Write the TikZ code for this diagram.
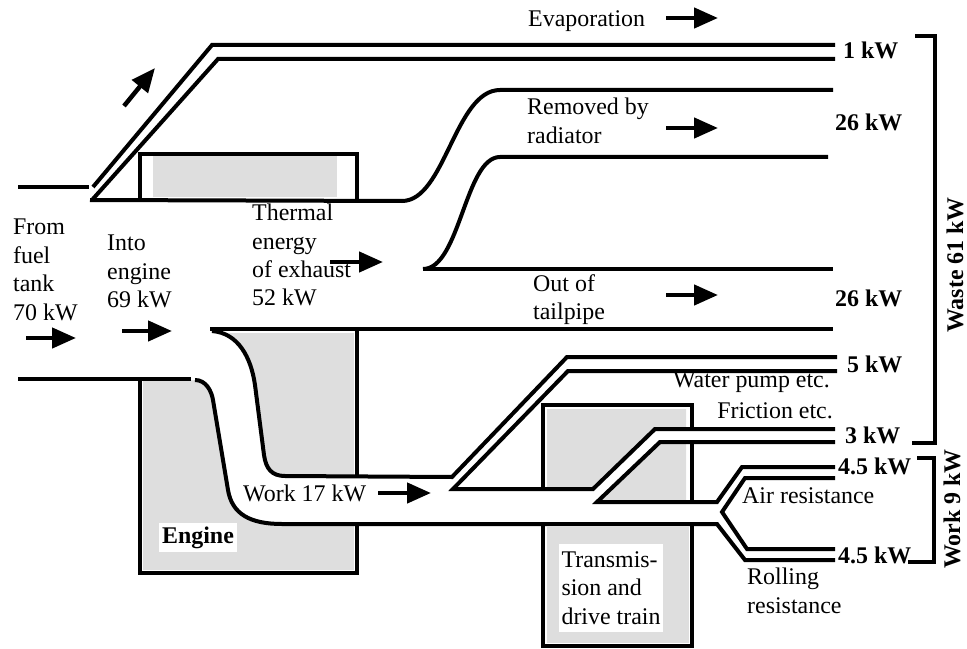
\documentclass[tikz,border=0pt]{standalone}
\usepackage{fontspec}
\setmainfont{Liberation Serif}
\usetikzlibrary{arrows.meta}

\tikzset{
  flow/.style={line width=4bp},
  fatarrow/.style={line width=4.5bp, -{Triangle[length=24bp,width=20bp]}},
  txt/.style={font=\fontsize{24}{28.5}\selectfont, inner sep=0pt},
  kw/.style={font=\fontsize{24}{28.5}\selectfont\bfseries, inner sep=0pt},
  shade/.style={fill=black!13},
}

\begin{document}
\begin{tikzpicture}[x=1bp, y=-1bp]
    \useasboundingbox (0,0) rectangle (967,649);

    % Grey parts: radiator, engine, transmission
    \fill[shade] (153,156) rectangle (337,197);
    \fill[shade] (143,333) rectangle (354,570);
    \fill[shade] (547,409) -- (686,409) -- (686,429) -- (655,429) -- (593,489) -- (547,489) -- cycle;
    \fill[shade] (597,502) -- (660,442) -- (686,442) -- (686,502) -- cycle;
    \fill[shade] (547,527) rectangle (689,643);

    % Work band through the engine left white
    \fill[white] (140,331) -- (212,331) .. controls (238,333) and (251,357) .. (255,385)
        -- (264,455) .. controls (266,469) and (272,476) .. (285,476) -- (356,476)
        -- (356,524) -- (282,524) .. controls (250,524) and (232,514) .. (228,490)
        -- (213,400) .. controls (211.5,391) and (206,380) .. (195,380) -- (140,380) -- cycle;

    % Inlet from the fuel tank
    \draw[flow] (18,187) -- (89,187);
    \draw[flow] (18,379) -- (191,379);

    % Evaporation
    \draw[flow] (93,187) -- (212,45) -- (835,45);
    \draw[flow] (92,200) -- (218,59) -- (835,59);

    % Radiator and tailpipe
    \draw[flow] (90,200) -- (402,201) .. controls (445,201) and (455,90) .. (500,90) -- (833,90);
    \draw[flow] (423,269) .. controls (460,269) and (465,157) .. (500,157) -- (828,157);
    \draw[flow] (423,269) -- (833,269);
    \draw[flow] (210,329) -- (833,329);

    % Radiator box
    \draw[flow] (140,200) -- (140,154) -- (357,154) -- (357,200);

    % Engine box
    \draw[flow] (357,329) -- (357,476);
    \draw[flow] (357,524) -- (357,573) -- (140,573) -- (140,379);

    % Work band and its branches
    \draw[flow] (212,331) .. controls (238,333) and (251,357) .. (255,385) -- (264,455)
        .. controls (266,469) and (272,476) .. (285,476) -- (452,477) -- (567,357) -- (837,357);
    \draw[flow] (195,380) .. controls (206,380) and (211.5,391) .. (213,400) -- (228,490)
        .. controls (232,514) and (250,524) .. (282,524) -- (717,524) -- (745,560) -- (835,560);
    \draw[flow] (837,371) -- (568,371) -- (453,489) -- (593,489) -- (655,429) -- (835,429);
    \draw[flow] (835,442) -- (660,442) -- (597,502) -- (717,502) -- (742,467) -- (835,467);
    \draw[flow] (835,478) -- (745,478) -- (722,512) -- (747,549) -- (835,549);

    % Transmission box
    \draw[flow] (543,489) -- (543,405) -- (692,405) -- (692,429);
    \draw[flow] (692,442) -- (692,502);
    \draw[flow] (543,524) -- (543,646) -- (692,646) -- (692,524);

    % Brackets
    \draw[flow] (915,36) -- (935,36) -- (935,443) -- (912,443);
    \draw[flow] (917,458) -- (934,458) -- (934,562) -- (908,562);

    % Arrows
    \draw[fatarrow] (26,338) -- (76,338);
    \draw[fatarrow] (122,331) -- (172,331);
    \draw[fatarrow] (124,106) -- (155,68);
    \draw[fatarrow] (330,262) -- (383,262);
    \draw[fatarrow] (666,18) -- (718,18);
    \draw[fatarrow] (666,128) -- (718,128);
    \draw[fatarrow] (666,295) -- (718,295);
    \draw[fatarrow] (378,493) -- (431,493);

    % Labels
    \node[txt, anchor=base west] (evap) at (528,27) {Evaporation};
    \node[txt, align=left, anchor=north west] (fuel) at (13,219) {From\\fuel\\tank\\70 kW};
    \node[txt, align=left, anchor=north west] (into) at (107,235) {Into\\engine\\69 kW};
    \node[txt, align=left, anchor=north west] (exhaust) at (252,204) {Thermal\\energy\\of exhaust\\52 kW};
    \node[txt, align=left, anchor=north west] (radiator) at (527,98) {Removed by\\radiator};
    \node[txt, align=left, anchor=north west] (tailpipe) at (533,274) {Out of\\tailpipe};
    \node[txt, anchor=base west] (work) at (243,501) {Work 17 kW};
    \node[txt, anchor=base east] (pump) at (830,387) {Water pump etc.};
    \node[txt, anchor=base east] (friction) at (833,418) {Friction etc.};
    \node[txt, anchor=base west] (air) at (742,503) {Air resistance};
    \node[txt, align=left, anchor=north west] (rolling) at (747,568) {Rolling\\resistance};
    \node[kw, fill=white, minimum width=78bp, minimum height=29bp] (engine) at (198,537.5) {Engine};
    \node[txt, fill=white, align=left, minimum width=104bp, minimum height=88bp] (trans) at (611,588) {Transmis-\\sion and\\drive train};

    % Power values
    \node[kw, anchor=base west] (kwevap) at (843,59) {1 kW};
    \node[kw, anchor=base west] (kwrad) at (835,131) {26 kW};
    \node[kw, anchor=base west] (kwtail) at (835,306) {26 kW};
    \node[kw, anchor=base west] (kwpump) at (847,372) {5 kW};
    \node[kw, anchor=base west] (kwfric) at (845,443) {3 kW};
    \node[kw, anchor=base west] (kwair) at (838,474) {4.5 kW};
    \node[kw, anchor=base west] (kwroll) at (838,563) {4.5 kW};
    \node[kw, rotate=90] (waste) at (955,265) {Waste 61 kW};
    \node[kw, rotate=90] (work9) at (952,509) {Work 9 kW};
\end{tikzpicture}
\end{document}
